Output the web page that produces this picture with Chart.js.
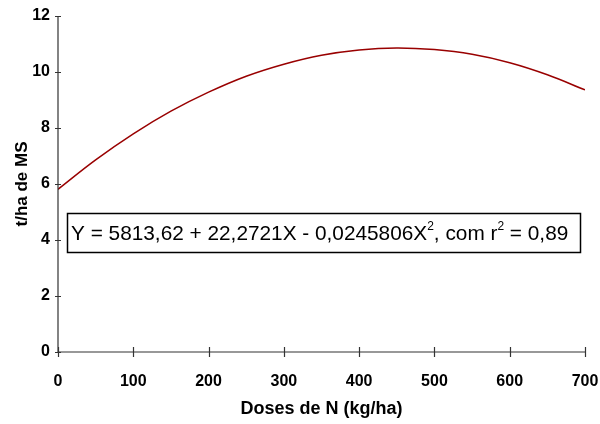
<!DOCTYPE html>
<html><head><meta charset="utf-8">
<script src="https://cdn.jsdelivr.net/npm/chart.js@4/dist/chart.umd.min.js"></script>
<style>html,body{margin:0;padding:0;background:#fff}#wrap{width:600px;height:424px}</style>
</head><body><div id="wrap"><canvas id="c" width="600" height="424"></canvas></div>
<script>
const doses = [0,50,100,150,200,250,300,350,400,450,500,550,600,650,700];
const yieldTHa = [5.81,6.86,7.79,8.60,9.28,9.85,10.28,10.60,10.79,10.86,10.80,10.63,10.33,9.90,9.36];
const xTicks = [0,100,200,300,400,500,600,700];
const yTicks = [0,2,4,6,8,10,12];
const xTitle = 'Doses de N (kg/ha)';
const yTitle = 't/ha de MS';
const eqParts = [['Y = 5813,62 + 22,2721X - 0,0245806X',false],['2',true],[', com r',false],['2',true],[' = 0,89',false]];
const boxAnchor = {x0:12, x1:693, yTop:4.96, yBot:3.57};

const FONT = "'Liberation Sans', Arial, sans-serif";

const tickPlugin = {
  id:'crossTicks',
  afterDraw(chart){
    const ctx = chart.ctx, xs = chart.scales.x, ys = chart.scales.y;
    ctx.save();
    ctx.strokeStyle = '#333'; ctx.lineWidth = 1.2;
    ctx.beginPath();
    ctx.moveTo(xs.left, ys.bottom); ctx.lineTo(xs.right, ys.bottom);
    ctx.moveTo(xs.left, ys.top); ctx.lineTo(xs.left, ys.bottom);
    xTicks.forEach(v=>{const p=Math.round(xs.getPixelForValue(v))+0.5; ctx.moveTo(p, ys.bottom-5); ctx.lineTo(p, ys.bottom+5);});
    yTicks.forEach(v=>{const p=Math.round(ys.getPixelForValue(v))+0.5; ctx.moveTo(xs.left-3, p); ctx.lineTo(xs.left+3, p);});
    ctx.stroke();
    // equation box
    const L = xs.getPixelForValue(boxAnchor.x0), R = xs.getPixelForValue(boxAnchor.x1);
    const T = ys.getPixelForValue(boxAnchor.yTop), B = ys.getPixelForValue(boxAnchor.yBot);
    ctx.fillStyle = '#fff';
    ctx.fillRect(L, T, R-L, B-T);
    ctx.strokeStyle = '#000'; ctx.lineWidth = 1.5;
    ctx.strokeRect(Math.round(L)+0.5, Math.round(T)+0.5, Math.round(R-L), Math.round(B-T));
    ctx.fillStyle = '#000'; ctx.textBaseline = 'alphabetic';
    let x = L + 4; const base = (T+B)/2 + 7.5;
    eqParts.forEach(([t,sup])=>{
      ctx.font = (sup ? '12px ' : '20.8px ') + FONT;
      ctx.fillText(t, x, sup ? base-10 : base);
      x += ctx.measureText(t).width;
    });
    ctx.restore();
  }
};

new Chart(document.getElementById('c'), {
  type:'line',
  data:{ datasets:[{ data: doses.map((d,i)=>({x:d,y:yieldTHa[i]})), borderColor:'#990000', borderWidth:1.5, pointRadius:0, tension:0.4, fill:false }]},
  options:{
    responsive:false, animation:false,
    layout:{padding:{top:16,right:15,bottom:0,left:0}},
    plugins:{legend:{display:false}, tooltip:{enabled:false}},
    scales:{
      x:{type:'linear', min:0, max:700,
        afterFit(s){s.height=72; s.paddingLeft=0; s.paddingRight=0;},
        afterBuildTicks(s){s.ticks = xTicks.map(v=>({value:v}));},
        border:{display:false},
        grid:{display:true, drawOnChartArea:false, drawTicks:false},
        ticks:{padding:20, color:'#000', font:{family:FONT, size:16, weight:'bold'}, maxRotation:0},
        title:{display:true, text:xTitle, color:'#000', font:{family:FONT, size:18, weight:'bold'}, padding:{top:0,bottom:4}}
      },
      y:{min:0, max:12,
        afterFit(s){s.width=58; s.paddingTop=0; s.paddingBottom=0;},
        afterBuildTicks(s){s.ticks = yTicks.map(v=>({value:v}));},
        border:{display:false},
        grid:{display:true, drawOnChartArea:false, drawTicks:false},
        ticks:{padding:8, color:'#000', font:{family:FONT, size:16, weight:'bold'}},
        title:{display:true, text:yTitle, color:'#000', font:{family:FONT, size:17, weight:'bold'}, padding:{top:12,bottom:0}}
      }
    }
  },
  plugins:[tickPlugin]
});
</script></body></html>
